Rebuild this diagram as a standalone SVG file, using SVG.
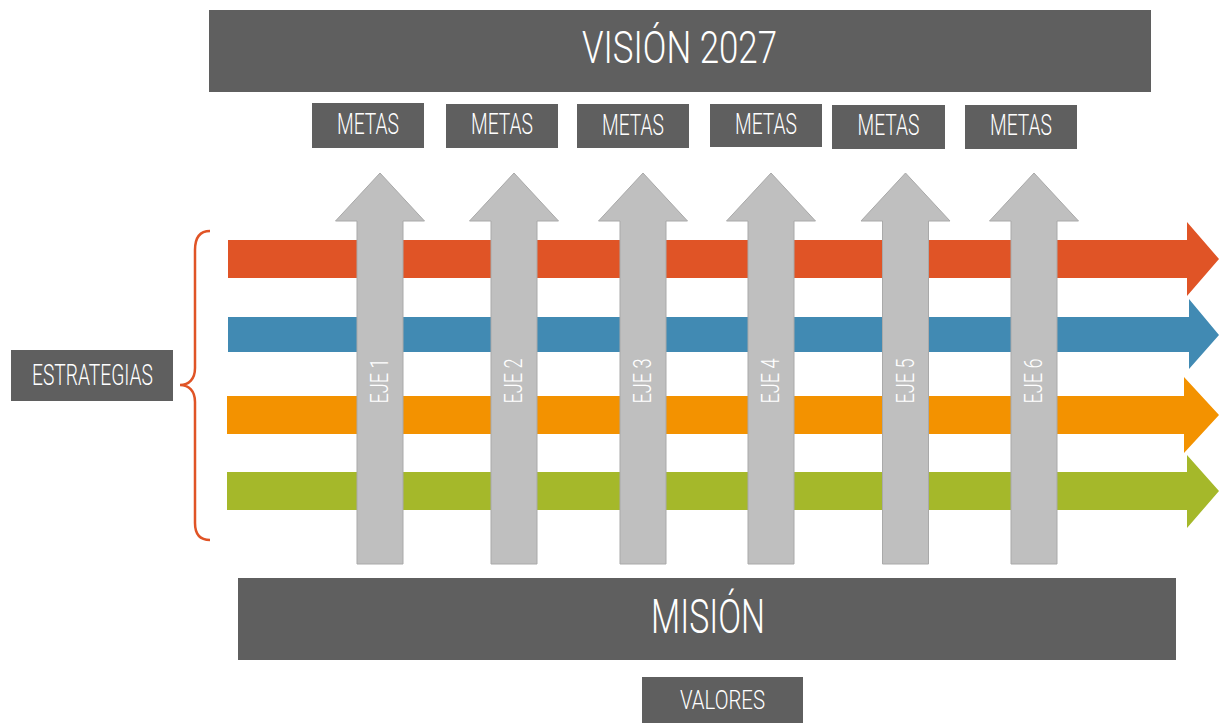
<svg xmlns="http://www.w3.org/2000/svg" width="1219" height="723" viewBox="0 0 1219 723">
<style>
.box{fill:#5F5F5F;}
.t{font-family:Roboto,"Liberation Sans Narrow","DejaVu Sans Condensed",sans-serif;font-weight:300;fill:#FFFFFF;text-anchor:middle;}
.ax{fill:#BFBFBF;stroke:#A9A9A9;stroke-width:1;}
.red{fill:#E05426;}
.blue{fill:#418AB3;}
.orange{fill:#F39200;}
.green{fill:#A5B82A;}
</style>
<rect width="1219" height="723" fill="#FFFFFF"/>

<g id="vision">
<rect class="box" x="209" y="10" width="942" height="82"/>
<text class="t" x="679.5" y="63" font-size="45" textLength="195" lengthAdjust="spacingAndGlyphs">VISIÓN 2027</text>
</g>

<g id="metas-1"><rect class="box" x="312" y="103" width="112" height="45"/><text class="t" x="368" y="134" font-size="29.5" textLength="62" lengthAdjust="spacingAndGlyphs">METAS</text></g>
<g id="metas-2"><rect class="box" x="446" y="104" width="112" height="44"/><text class="t" x="502" y="134" font-size="29.5" textLength="62" lengthAdjust="spacingAndGlyphs">METAS</text></g>
<g id="metas-3"><rect class="box" x="577" y="104" width="112" height="44"/><text class="t" x="633" y="135" font-size="29.5" textLength="62" lengthAdjust="spacingAndGlyphs">METAS</text></g>
<g id="metas-4"><rect class="box" x="710" y="104" width="112" height="43"/><text class="t" x="766" y="134" font-size="29.5" textLength="62" lengthAdjust="spacingAndGlyphs">METAS</text></g>
<g id="metas-5"><rect class="box" x="832" y="105" width="113" height="44"/><text class="t" x="888.5" y="135" font-size="29.5" textLength="62" lengthAdjust="spacingAndGlyphs">METAS</text></g>
<g id="metas-6"><rect class="box" x="965" y="105" width="112" height="44"/><text class="t" x="1021" y="135" font-size="29.5" textLength="62" lengthAdjust="spacingAndGlyphs">METAS</text></g>

<g id="estrategias">
<rect class="box" x="11" y="350" width="162" height="51"/>
<text class="t" x="92.5" y="385" font-size="29.5" textLength="121" lengthAdjust="spacingAndGlyphs">ESTRATEGIAS</text>
</g>

<g id="brace">
<path d="M210,231 C200,231 195,237 195,250 L195,368 C195,379 189,385 180,385 C189,385 195,391 195,402 L195,523 C195,535 200,540 210,540" fill="none" stroke="#E05426" stroke-width="2.5"/>
</g>

<g id="strategy-arrows">
<polygon class="red" points="228,240 1187,240 1187,222 1219,259 1187,296 1187,278 228,278"/>
<polygon class="blue" points="228,317 1189,317 1189,299 1219,335 1189,369 1189,352 228,352"/>
<polygon class="orange" points="227,396 1184,396 1184,377 1219,415 1184,453 1184,434 227,434"/>
<polygon class="green" points="227,472 1187,472 1187,455 1219,491 1187,528 1187,510 227,510"/>
</g>

<g id="eje-1"><polygon class="ax" points="380,173 424.5,221 403,221 403,564 357,564 357,221 335.5,221"/><text class="t" transform="translate(388,381) rotate(-90)" font-size="26.5" textLength="45" lengthAdjust="spacingAndGlyphs">EJE 1</text></g>
<g id="eje-2"><polygon class="ax" points="514,173 558.5,221 537,221 537,564 491,564 491,221 469.5,221"/><text class="t" transform="translate(522,381) rotate(-90)" font-size="26.5" textLength="45" lengthAdjust="spacingAndGlyphs">EJE 2</text></g>
<g id="eje-3"><polygon class="ax" points="643,173 687.5,221 666,221 666,564 620,564 620,221 598.5,221"/><text class="t" transform="translate(651,381) rotate(-90)" font-size="26.5" textLength="45" lengthAdjust="spacingAndGlyphs">EJE 3</text></g>
<g id="eje-4"><polygon class="ax" points="771,173 815.5,221 794,221 794,564 748,564 748,221 726.5,221"/><text class="t" transform="translate(779,381) rotate(-90)" font-size="26.5" textLength="45" lengthAdjust="spacingAndGlyphs">EJE 4</text></g>
<g id="eje-5"><polygon class="ax" points="905.5,173 950,221 928.5,221 928.5,564 882.5,564 882.5,221 861,221"/><text class="t" transform="translate(913.5,381) rotate(-90)" font-size="26.5" textLength="45" lengthAdjust="spacingAndGlyphs">EJE 5</text></g>
<g id="eje-6"><polygon class="ax" points="1034,173 1078.5,221 1057,221 1057,564 1011,564 1011,221 989.5,221"/><text class="t" transform="translate(1042,381) rotate(-90)" font-size="26.5" textLength="45" lengthAdjust="spacingAndGlyphs">EJE 6</text></g>

<g id="mision">
<rect class="box" x="238" y="578" width="938" height="82"/>
<text class="t" x="708" y="633" font-size="49" textLength="114" lengthAdjust="spacingAndGlyphs">MISIÓN</text>
</g>

<g id="valores">
<rect class="box" x="642" y="677" width="161" height="46"/>
<text class="t" x="722.5" y="709" font-size="26" textLength="85" lengthAdjust="spacingAndGlyphs">VALORES</text>
</g>

<g id="connectors"></g>
</svg>
